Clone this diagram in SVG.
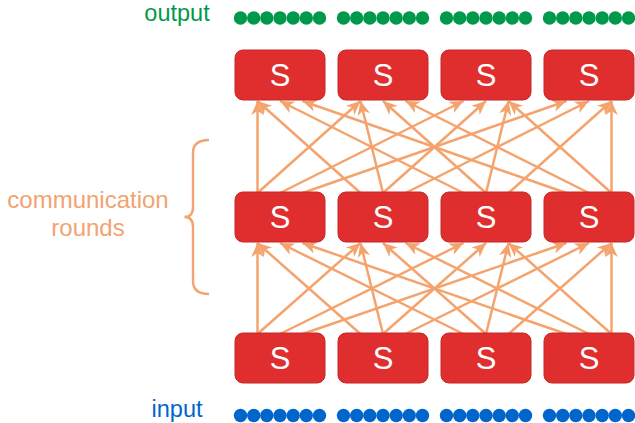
<svg xmlns="http://www.w3.org/2000/svg" width="635" height="423" viewBox="0 0 635 423">
  <defs>
    <style>
      .box { fill: #e02e2f; stroke: #c4282b; stroke-width: 1; }
      .s { font-family: "Liberation Sans", Arial, sans-serif; font-size: 31px; fill: #ffffff; text-anchor: middle; }
      .link { stroke: #f5a36d; stroke-width: 2.5; fill: none; marker-end: url(#head); }
      .out { fill: #00994c; }
      .in { fill: #0066cc; }
      .lbl { font-family: "Liberation Sans", Arial, sans-serif; }
    </style>
    <marker id="head" markerUnits="userSpaceOnUse" markerWidth="18" markerHeight="16" viewBox="-15 -8 16 16" refX="0" refY="0" orient="auto">
      <path d="M0,0 L-14,-6.3 L-10,0 L-14,6.3 Z" fill="#f5a36d"/>
    </marker>
    <g id="beads">
      <circle cx="6.5" cy="0" r="6.7"/>
      <circle cx="19.7" cy="0" r="6.7"/>
      <circle cx="32.8" cy="0" r="6.7"/>
      <circle cx="46" cy="0" r="6.7"/>
      <circle cx="59.2" cy="0" r="6.7"/>
      <circle cx="72.3" cy="0" r="6.7"/>
      <circle cx="85.5" cy="0" r="6.7"/>
    </g>
  </defs>

  <!-- output bits -->
  <g id="output">
    <text class="lbl" x="177" y="21" font-size="23.5" fill="#00994c" text-anchor="middle">output</text>
    <use href="#beads" class="out" x="234" y="18"/>
    <use href="#beads" class="out" x="337" y="18"/>
    <use href="#beads" class="out" x="440" y="18"/>
    <use href="#beads" class="out" x="543" y="18"/>
  </g>

  <!-- input bits -->
  <g id="input">
    <text class="lbl" x="177" y="417" font-size="23.5" fill="#0066cc" text-anchor="middle">input</text>
    <use href="#beads" class="in" x="234" y="415.5"/>
    <use href="#beads" class="in" x="337" y="415.5"/>
    <use href="#beads" class="in" x="440" y="415.5"/>
    <use href="#beads" class="in" x="543" y="415.5"/>
  </g>

  <!-- brace label -->
  <g id="rounds">
    <text class="lbl" x="88" y="208" font-size="24" fill="#f2a36f" text-anchor="middle">communication</text>
    <text class="lbl" x="88" y="236" font-size="24" fill="#f2a36f" text-anchor="middle">rounds</text>
    <path d="M209,140 Q193,140 193,153 L193,207 Q193,217 184.5,217 Q193,217 193,227 L193,281 Q193,294 209,294" fill="none" stroke="#f2a36f" stroke-width="2.4"/>
  </g>

  <!-- all-to-all message links between consecutive rounds -->
  <g id="connectors">
    <!-- bottom row to middle row -->
    <line class="link" x1="257.5" y1="334" x2="257.5" y2="243"/>
    <line class="link" x1="257.5" y1="334" x2="360.5" y2="243"/>
    <line class="link" x1="280" y1="334" x2="463.5" y2="243"/>
    <line class="link" x1="302.5" y1="334" x2="566.5" y2="243"/>
    <line class="link" x1="360.5" y1="334" x2="257.5" y2="243"/>
    <line class="link" x1="383" y1="334" x2="360.5" y2="243"/>
    <line class="link" x1="383" y1="334" x2="486" y2="243"/>
    <line class="link" x1="405.5" y1="334" x2="589" y2="243"/>
    <line class="link" x1="463.5" y1="334" x2="280" y2="243"/>
    <line class="link" x1="486" y1="334" x2="383" y2="243"/>
    <line class="link" x1="486" y1="334" x2="508.5" y2="243"/>
    <line class="link" x1="508.5" y1="334" x2="611.5" y2="243"/>
    <line class="link" x1="566.5" y1="334" x2="302.5" y2="243"/>
    <line class="link" x1="589" y1="334" x2="405.5" y2="243"/>
    <line class="link" x1="611.5" y1="334" x2="508.5" y2="243"/>
    <line class="link" x1="611.5" y1="334" x2="611.5" y2="243"/>
    <!-- middle row to top row -->
    <line class="link" x1="257.5" y1="193" x2="257.5" y2="101"/>
    <line class="link" x1="257.5" y1="193" x2="360.5" y2="101"/>
    <line class="link" x1="280" y1="193" x2="463.5" y2="101"/>
    <line class="link" x1="302.5" y1="193" x2="566.5" y2="101"/>
    <line class="link" x1="360.5" y1="193" x2="257.5" y2="101"/>
    <line class="link" x1="383" y1="193" x2="360.5" y2="101"/>
    <line class="link" x1="383" y1="193" x2="486" y2="101"/>
    <line class="link" x1="405.5" y1="193" x2="589" y2="101"/>
    <line class="link" x1="463.5" y1="193" x2="280" y2="101"/>
    <line class="link" x1="486" y1="193" x2="383" y2="101"/>
    <line class="link" x1="486" y1="193" x2="508.5" y2="101"/>
    <line class="link" x1="508.5" y1="193" x2="611.5" y2="101"/>
    <line class="link" x1="566.5" y1="193" x2="302.5" y2="101"/>
    <line class="link" x1="589" y1="193" x2="405.5" y2="101"/>
    <line class="link" x1="611.5" y1="193" x2="508.5" y2="101"/>
    <line class="link" x1="611.5" y1="193" x2="611.5" y2="101"/>
  </g>

  <!-- servers: top row -->
  <g id="s-top-1"><rect class="box" x="235" y="50" width="90" height="50" rx="8"/><text class="s" x="280" y="86">S</text></g>
  <g id="s-top-2"><rect class="box" x="338" y="50" width="90" height="50" rx="8"/><text class="s" x="383" y="86">S</text></g>
  <g id="s-top-3"><rect class="box" x="441" y="50" width="90" height="50" rx="8"/><text class="s" x="486" y="86">S</text></g>
  <g id="s-top-4"><rect class="box" x="544" y="50" width="90" height="50" rx="8"/><text class="s" x="589" y="86">S</text></g>

  <!-- servers: middle row -->
  <g id="s-mid-1"><rect class="box" x="235" y="192" width="90" height="50" rx="8"/><text class="s" x="280" y="228">S</text></g>
  <g id="s-mid-2"><rect class="box" x="338" y="192" width="90" height="50" rx="8"/><text class="s" x="383" y="228">S</text></g>
  <g id="s-mid-3"><rect class="box" x="441" y="192" width="90" height="50" rx="8"/><text class="s" x="486" y="228">S</text></g>
  <g id="s-mid-4"><rect class="box" x="544" y="192" width="90" height="50" rx="8"/><text class="s" x="589" y="228">S</text></g>

  <!-- servers: bottom row -->
  <g id="s-bot-1"><rect class="box" x="235" y="333" width="90" height="50" rx="8"/><text class="s" x="280" y="369">S</text></g>
  <g id="s-bot-2"><rect class="box" x="338" y="333" width="90" height="50" rx="8"/><text class="s" x="383" y="369">S</text></g>
  <g id="s-bot-3"><rect class="box" x="441" y="333" width="90" height="50" rx="8"/><text class="s" x="486" y="369">S</text></g>
  <g id="s-bot-4"><rect class="box" x="544" y="333" width="90" height="50" rx="8"/><text class="s" x="589" y="369">S</text></g>
</svg>
